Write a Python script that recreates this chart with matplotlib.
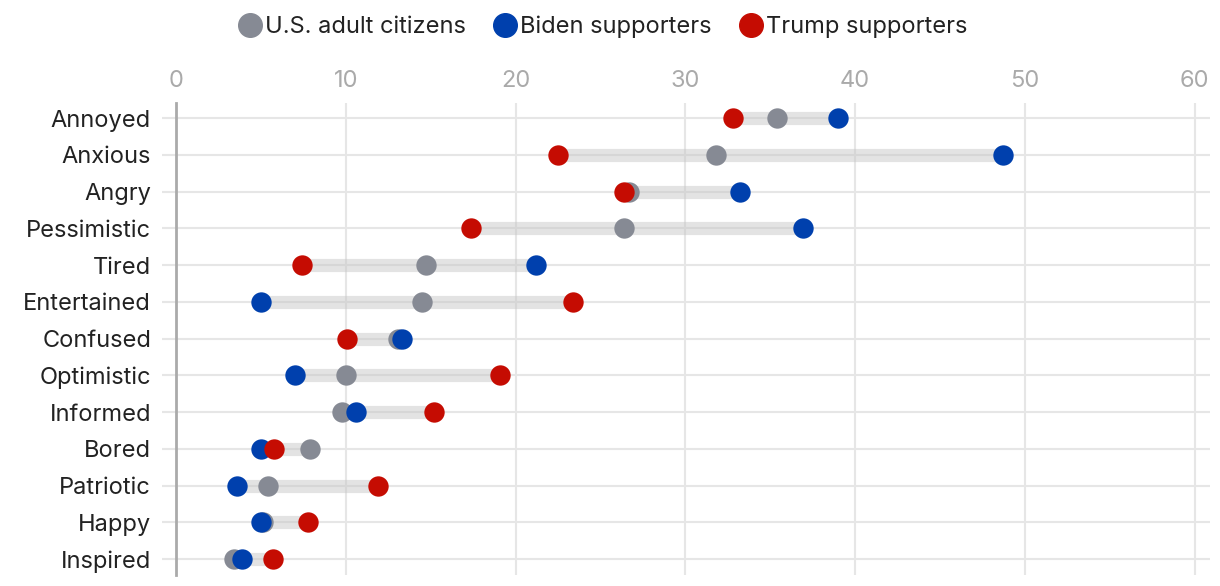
import matplotlib
matplotlib.use("Agg")
import matplotlib.pyplot as plt
from matplotlib.lines import Line2D

plt.rcParams['font.family'] = ['Inter', 'DejaVu Sans']

emotions = ["Annoyed", "Anxious", "Angry", "Pessimistic", "Tired", "Entertained",
            "Confused", "Optimistic", "Informed", "Bored", "Patriotic", "Happy", "Inspired"]
us_adults = [35.4, 31.8, 26.7, 26.4, 14.7, 14.5, 13.1, 10.0, 9.8, 7.9, 5.4, 5.1, 3.4]
biden = [39.0, 48.7, 33.2, 36.9, 21.2, 5.0, 13.3, 7.0, 10.6, 5.0, 3.6, 5.0, 3.9]
trump = [32.8, 22.5, 26.4, 17.4, 7.4, 23.4, 10.1, 19.1, 15.2, 5.8, 11.9, 7.8, 5.7]
xticks = [0, 10, 20, 30, 40, 50, 60]
series_names = ["U.S. adult citizens", "Biden supporters", "Trump supporters"]

c_gray = "#868a94"
c_blue = "#0040ad"
c_red = "#c50c02"
grid_c = "#e6e6e6"

fig = plt.figure(figsize=(12.2, 5.86), dpi=100)
ax = fig.add_axes([176/1220, 1-575/586, (1210-176)/1220, (575-103)/586])

ys = list(range(len(emotions)))
for y, a, b, t in zip(ys, us_adults, biden, trump):
    lo, hi = min(a, b, t), max(a, b, t)
    ax.plot([lo, hi], [y, y], color="#c8c8c8", alpha=0.5, lw=9.5, solid_capstyle="butt", zorder=2)

ms = 215
ax.scatter(us_adults, ys, s=ms, color=c_gray, zorder=3, linewidths=0)
ax.scatter(biden, ys, s=ms, color=c_blue, zorder=4, linewidths=0)
ax.scatter(trump, ys, s=ms, color=c_red, zorder=5, linewidths=0)

ax.set_xlim(0, 60.9)
ax.set_ylim(len(emotions) - 1 + 0.435, -0.41)
ax.set_yticks(ys)
ax.set_yticklabels(emotions, fontsize=17, color="#222222")
ax.set_xticks(xticks)
ax.set_xticklabels([str(v) for v in xticks], fontsize=17, color="#aaaaaa")
ax.xaxis.tick_top()
ax.tick_params(axis="x", length=0, pad=8)
ax.tick_params(axis="y", length=10, width=1.5, color=grid_c, pad=8)

ax.grid(True, axis="both", color=grid_c, lw=1.5, zorder=0)
ax.set_axisbelow(True)
for s in ["top", "right", "bottom"]:
    ax.spines[s].set_visible(False)
ax.spines["left"].set_color("#aaaaaa")
ax.spines["left"].set_linewidth(2)
ax.spines["left"].set_zorder(1)

handles = [Line2D([], [], marker="o", ls="", color=c, markersize=17) for c in (c_gray, c_blue, c_red)]
fig.legend(handles, series_names, loc="center", bbox_to_anchor=(601/1220, 1-27/586),
           ncol=3, frameon=False, fontsize=17, handletextpad=0.0, columnspacing=1.0,
           handlelength=1.3, labelcolor="#222222")

fig.savefig("out.png", dpi=100)
